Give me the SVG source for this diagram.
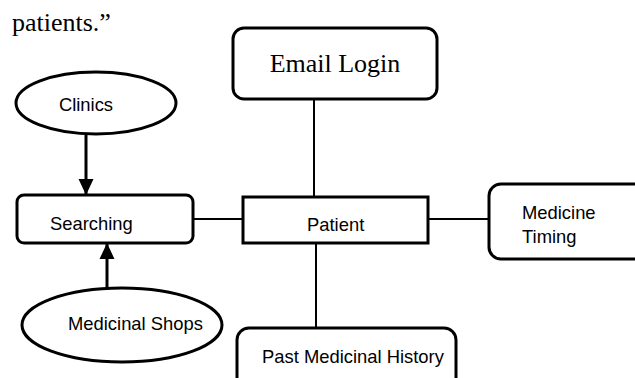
<svg xmlns="http://www.w3.org/2000/svg" width="635" height="378" viewBox="0 0 635 378">
<style>
.box{fill:#fff;stroke:#000;stroke-width:3}
.ln{stroke:#000;stroke-width:2;fill:none}
.arr{stroke:#000;stroke-width:3;fill:none}
.s{font-family:"Liberation Sans",Arial,sans-serif;font-size:18.4px;fill:#000}
.r{font-family:"Liberation Serif","Times New Roman",serif;font-size:26px;fill:#000}
</style>
<defs>
<marker id="ah" viewBox="0 0 16 16" refX="16" refY="8" markerWidth="16" markerHeight="16" orient="auto" markerUnits="userSpaceOnUse">
<path d="M0,0.5 L16,8 L0,15.5 Z" fill="#000"/>
</marker>
</defs>
<rect width="635" height="378" fill="#fff"/>
<text class="r" x="12" y="31">patients.”</text>
<g id="connectors">
<line class="ln" x1="314" y1="99" x2="314" y2="197"/>
<line class="ln" x1="193" y1="219" x2="243" y2="219"/>
<line class="ln" x1="428" y1="219" x2="489" y2="219"/>
<line class="ln" x1="316" y1="243" x2="316" y2="328"/>
<line class="arr" x1="86" y1="135" x2="86" y2="195" marker-end="url(#ah)"/>
<line class="arr" x1="107" y1="288" x2="107" y2="243" marker-end="url(#ah)"/>
</g>
<g id="email">
<rect class="box" x="233" y="28" width="204" height="71" rx="11"/>
<text class="r" x="335" y="72" text-anchor="middle">Email Login</text>
</g>
<g id="clinics">
<ellipse class="box" cx="96" cy="103" rx="80" ry="31"/>
<text class="s" x="86" y="111" text-anchor="middle">Clinics</text>
</g>
<g id="searching">
<rect class="box" x="17" y="195" width="176" height="48" rx="7"/>
<text class="s" x="50" y="230">Searching</text>
</g>
<g id="patient">
<rect class="box" x="243" y="197" width="185" height="46"/>
<text class="s" x="307" y="231">Patient</text>
</g>
<g id="timing">
<rect class="box" x="489" y="184" width="170" height="75" rx="12"/>
<text class="s" x="522" y="219">Medicine</text>
<text class="s" x="522" y="243">Timing</text>
</g>
<g id="shops">
<ellipse class="box" cx="122" cy="325" rx="100" ry="37"/>
<text class="s" x="68" y="330">Medicinal Shops</text>
</g>
<g id="history">
<rect class="box" x="237" y="328" width="219" height="70" rx="12"/>
<text class="s" x="262" y="363">Past Medicinal History</text>
</g>
</svg>
